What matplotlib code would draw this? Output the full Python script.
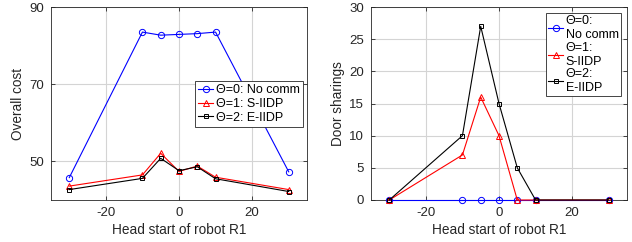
import matplotlib
matplotlib.use("Agg")
import matplotlib.pyplot as plt

plt.rcParams['font.family'] = ['Liberation Sans', 'DejaVu Sans']
plt.rcParams['font.size'] = 9
plt.rcParams['axes.unicode_minus'] = False

head_start = [-30, -10, -5, 0, 5, 10, 30]

cost_no_comm = [45.8, 83.5, 82.7, 82.9, 83.1, 83.5, 47.3]
cost_s_iidp = [43.6, 46.5, 52.1, 47.4, 48.8, 45.9, 42.7]
cost_e_iidp = [42.7, 45.6, 50.8, 47.6, 48.6, 45.5, 42.2]

share_no_comm = [0, 0, 0, 0, 0, 0, 0]
share_s_iidp = [0, 7, 16, 10, 0, 0, 0]
share_e_iidp = [0, 10, 27, 15, 5, 0, 0]

labels_one = ['\u0398=0: No comm', '\u0398=1: S-IIDP', '\u0398=2: E-IIDP']
labels_two = ['\u0398=0:\nNo comm', '\u0398=1:\nS-IIDP', '\u0398=2:\nE-IIDP']

dark = '#262626'


def style_axes(ax):
    ax.grid(True, color='#d4d4d4', linewidth=0.8)
    ax.set_axisbelow(True)
    ax.tick_params(direction='in', top=True, right=True, length=3, width=0.6,
                   labelsize=9.5, colors=dark, pad=5)
    for s in ax.spines.values():
        s.set_linewidth(0.6)
        s.set_color(dark)
    ax.set_xlim(-35, 35)
    ax.set_xticks([-20, 0, 20])
    ax.set_xlabel('Head start of robot R1', fontsize=9.8, color=dark, labelpad=3)


def draw_series(ax, ys, labels):
    common = dict(markerfacecolor='none', linewidth=0.8, markeredgewidth=0.7,
                  clip_on=False, zorder=3)
    ax.plot(head_start, ys[0], '-o', color='blue', label=labels[0], markersize=4.5, **common)
    ax.plot(head_start, ys[1], '-^', color='red', label=labels[1], markersize=5, **common)
    ax.plot(head_start, ys[2], '-s', color='black', label=labels[2], markersize=3.5, **common)


fig = plt.figure(figsize=(6.32, 2.42), dpi=100)
ax1 = fig.add_axes([51 / 632, 42 / 242, 256 / 632, 193 / 242])
ax2 = fig.add_axes([371 / 632, 42 / 242, 256 / 632, 193 / 242])

draw_series(ax1, [cost_no_comm, cost_s_iidp, cost_e_iidp], labels_one)
style_axes(ax1)
ax1.set_ylim(40, 90)
ax1.set_yticks([50, 70, 90])
ax1.set_ylabel('Overall cost', fontsize=9.8, color=dark, labelpad=3)
leg1 = ax1.legend(loc='upper right', bbox_to_anchor=(0.984, 0.617), fontsize=9,
                  handlelength=1.2, handletextpad=0.2, borderpad=0.25,
                  labelspacing=0.15, borderaxespad=0, fancybox=False,
                  framealpha=1, edgecolor=dark)
leg1.get_frame().set_linewidth(0.6)

draw_series(ax2, [share_no_comm, share_s_iidp, share_e_iidp], labels_two)
style_axes(ax2)
ax2.set_ylim(0, 30)
ax2.set_yticks([0, 5, 10, 15, 20, 25, 30])
ax2.set_ylabel('Door sharings', fontsize=9.8, color=dark, labelpad=3)
leg2 = ax2.legend(loc='upper right', bbox_to_anchor=(0.978, 0.97), fontsize=9,
                  handlelength=1.2, handletextpad=0.2, borderpad=0.2,
                  labelspacing=0.05, borderaxespad=0, fancybox=False,
                  framealpha=1, edgecolor=dark)
leg2.get_frame().set_linewidth(0.6)
leg2.set_zorder(5)

fig.savefig('out.png', dpi=100)
